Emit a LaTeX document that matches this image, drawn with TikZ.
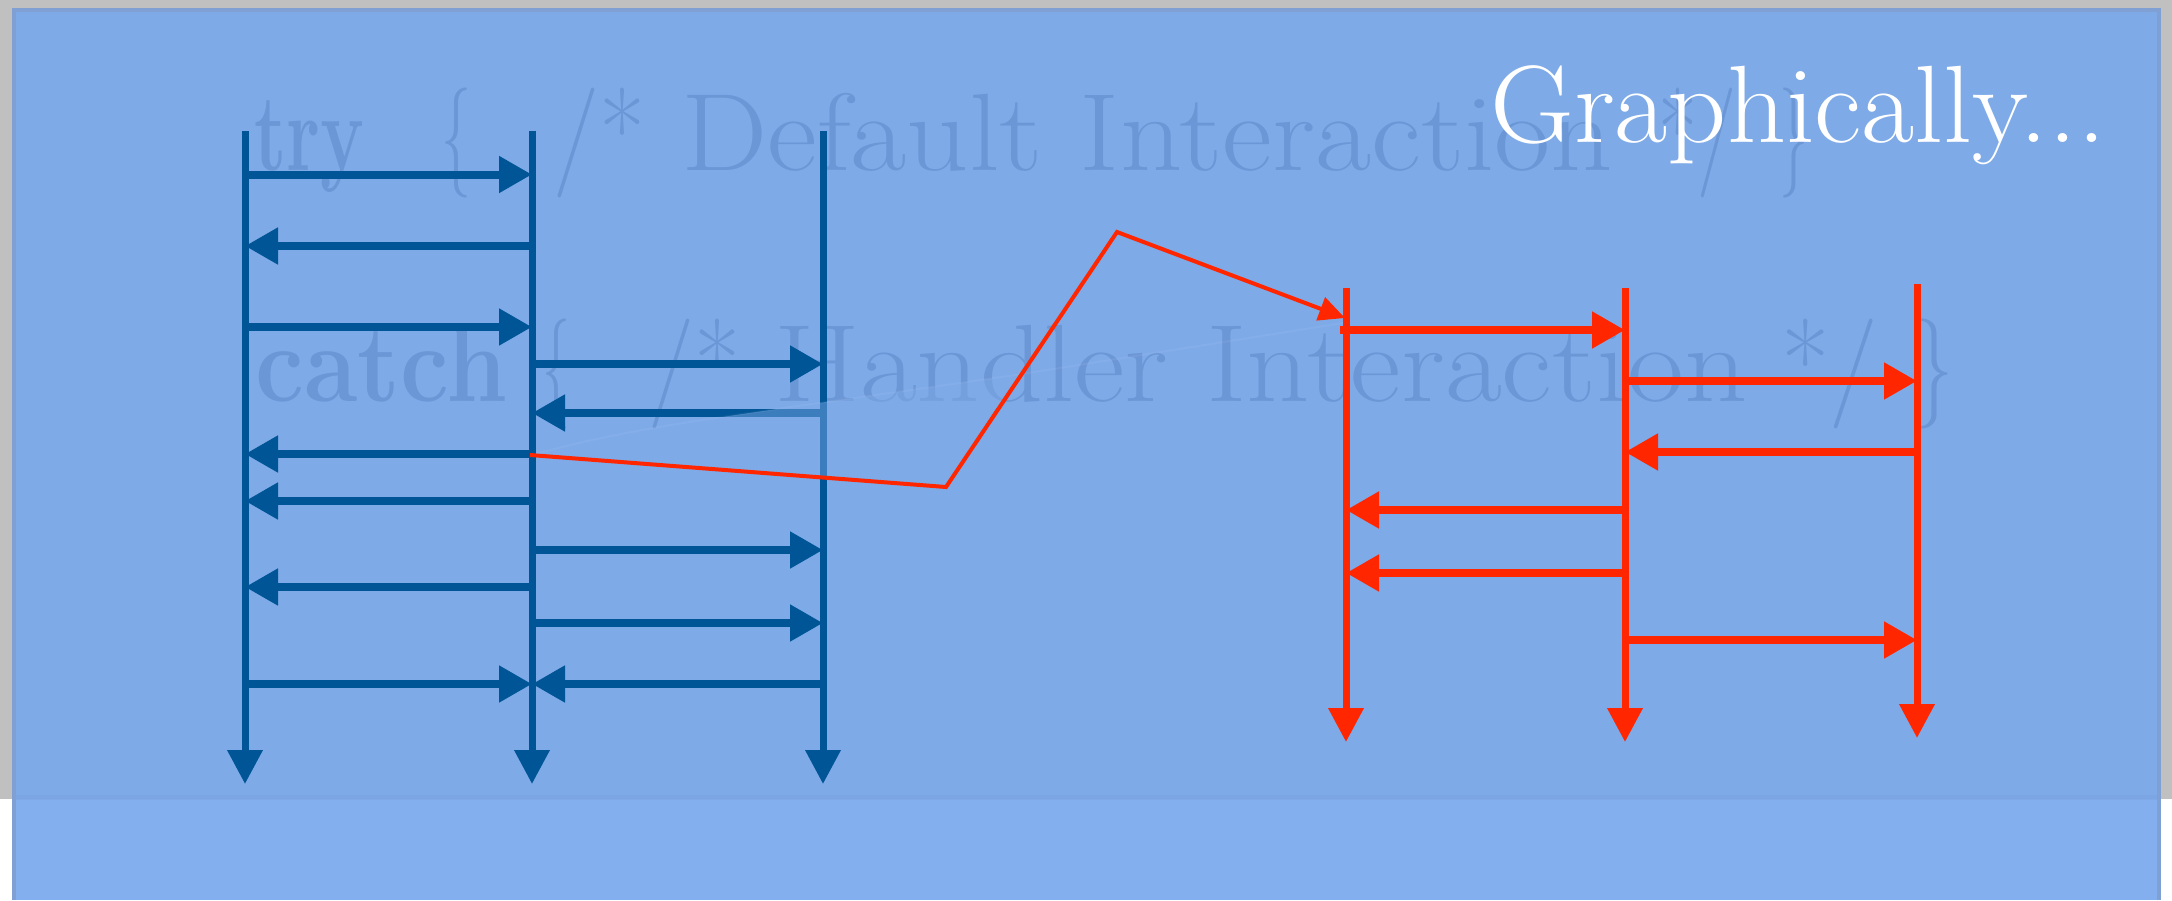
\documentclass[tikz,border=0pt]{standalone}
\usepackage{fontspec}
\usetikzlibrary{arrows.meta}
\definecolor{bggrey}{RGB}{192,192,192}
\definecolor{panel}{RGB}{126,170,232}
\definecolor{panellow}{RGB}{132,175,238}
\definecolor{paneledge}{RGB}{128,160,212}
\definecolor{ghost}{RGB}{108,151,214}
\definecolor{seqblue}{RGB}{0,85,150}
\definecolor{seqred}{RGB}{255,38,0}
\newcommand{\fitw}[2]{\resizebox{#1}{\height}{#2}}
\tikzset{
  lifeline/.style={line width=7pt, -{Triangle[length=34pt,width=34pt]}},
  message/.style={line width=8pt, -{Triangle[length=33pt,width=35pt]}},
  ghosttext/.style={anchor=base west, inner sep=0pt, text=ghost, font=\fontsize{110}{120}\selectfont},
  jump/.style={seqred, line width=4pt, line join=miter, -{Triangle[length=26pt,width=24pt]}},
}
\begin{document}
\begin{tikzpicture}[x=1pt,y=-1pt]
\useasboundingbox (0,0) rectangle (2172,900);
% background
\fill[bggrey] (0,0) rectangle (2172,799);
\fill[white] (0,799) rectangle (2172,900);
\fill[panel] (12,8) rectangle (2161,799);
\fill[panellow] (12,799) rectangle (2161,900);
\fill[panel!92!black, opacity=0.25] (12,795) rectangle (2161,800);
\draw[paneledge, line width=4pt] (14,900) -- (14,10) -- (2159,10) -- (2159,900);
% ghost code text, line 1
\node[ghosttext] (t1a) at (254,170) {\fitw{110pt}{\textbf{try}}};
\node[ghosttext] (t1b) at (441,170) {\fitw{30pt}{\{}};
\node[ghosttext] (t1c) at (553,170) {\fitw{92pt}{/*}};
\node[ghosttext] (t1d) at (681,170) {\fitw{932pt}{Default Interaction}};
\node[ghosttext] (t1e) at (1658,170) {\fitw{78pt}{*/}};
\node[ghosttext] (t1f) at (1779,170) {\fitw{29pt}{\}}};
% ghost code text, line 2
\node[ghosttext] (t2a) at (255,401) {\fitw{252pt}{\textbf{catch}}};
\node[ghosttext] (t2b) at (542,401) {\fitw{28pt}{\{}};
\node[ghosttext] (t2c) at (648,401) {\fitw{92pt}{/*}};
\node[ghosttext] (t2d) at (774,401) {\fitw{973pt}{Handler Interaction}};
\node[ghosttext] (t2e) at (1781,401) {\fitw{97pt}{*/}};
\node[ghosttext] (t2f) at (1915,401) {\fitw{38pt}{\}}};
% blue lifelines
\coordinate (bA) at (245,131);
\coordinate (bB) at (532,131);
\coordinate (bC) at (823,131);
\coordinate (bAend) at (245,784);
\coordinate (bBend) at (532,784);
\coordinate (bCend) at (823,784);
\begin{scope}[seqblue]
\draw[lifeline] (bA) -- (bAend);
\draw[lifeline] (bB) -- (bBend);
\draw[lifeline] (bC) -- (bCend);
\draw[message] (bA |- 0,174.5) -- (bB |- 0,174.5);
\draw[message] (bB |- 0,246) -- (bA |- 0,246);
\draw[message] (bA |- 0,327) -- (bB |- 0,327);
\draw[message] (bB |- 0,364) -- (bC |- 0,364);
\draw[message] (bC |- 0,413) -- (bB |- 0,413);
\draw[message] (bB |- 0,454) -- (bA |- 0,454);
\draw[message] (bB |- 0,501) -- (bA |- 0,501);
\draw[message] (bB |- 0,550) -- (bC |- 0,550);
\draw[message] (bB |- 0,587) -- (bA |- 0,587);
\draw[message] (bB |- 0,623) -- (bC |- 0,623);
\draw[message] (bA |- 0,684) -- (bB |- 0,684);
\draw[message] (bC |- 0,684) -- (bB |- 0,684);
\end{scope}
% faint translucent overlay
\coordinate (ovA) at (532,455);
\coordinate (ovB) at (1022,374);
\coordinate (ovC) at (946,487);
\coordinate (ovD) at (1343,323);
\fill[panel, opacity=0.48] (ovA) .. controls (640,425) and (720,418) .. (ovB) -- (ovC) -- cycle;
\draw[white, opacity=0.05, line width=2pt] (ovA) .. controls (640,425) and (720,418) .. (ovB) -- (ovD);
% red lifelines
\coordinate (rA) at (1346,288);
\coordinate (rB) at (1625,288);
\coordinate (rC) at (1917,284);
\coordinate (rAend) at (1346,742);
\coordinate (rBend) at (1625,742);
\coordinate (rCend) at (1917,738);
\begin{scope}[seqred]
\draw[lifeline] (rA) -- (rAend);
\draw[lifeline] (rB) -- (rBend);
\draw[lifeline] (rC) -- (rCend);
\draw[message] (1340,330) coordinate (rm1) -- (rB |- 0,330);
\draw[message] (rB |- 0,381) -- (rC |- 0,381);
\draw[message] (rC |- 0,452) -- (rB |- 0,452);
\draw[message] (rB |- 0,510) -- (rA |- 0,510);
\draw[message] (rB |- 0,573) -- (rA |- 0,573);
\draw[message] (rB |- 0,640) -- (rC |- 0,640);
\end{scope}
% red jump connector
\coordinate (jStart) at (530,455);
\coordinate (jLow) at (946,487);
\coordinate (jPeak) at (1117,232);
\coordinate (jEnd) at (1345,318);
\draw[jump] (jStart) -- (jLow) -- (jPeak) -- (jEnd);
% title
\node[anchor=base west, inner sep=0pt, text=white, font=\fontsize{110}{120}\selectfont] (title) at (1490,142) {\fitw{616pt}{Graphically...}};
\end{tikzpicture}
\end{document}
